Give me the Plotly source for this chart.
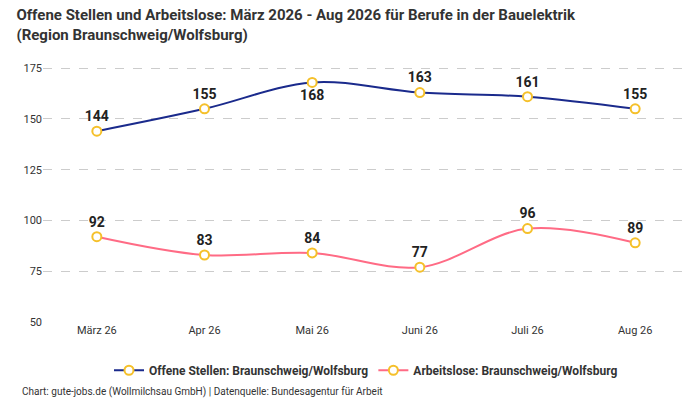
import plotly.graph_objects as go

months = ["März 26", "Apr 26", "Mai 26", "Juni 26", "Juli 26", "Aug 26"]
offene = [144, 155, 168, 163, 161, 155]
arbeitslose = [92, 83, 84, 77, 96, 89]
offene_pos = ["top center", "top center", "bottom center", "top center", "top center", "top center"]
arbeitslose_pos = ["top center"] * 6

fig = go.Figure()
fig.add_trace(go.Scatter(
    x=months, y=offene, name="<b>Offene Stellen: Braunschweig/Wolfsburg</b>",
    mode="lines+markers+text", text=["<b>%d</b>" % v for v in offene], textposition=offene_pos,
    textfont=dict(size=14, color="#222"),
    line=dict(color="#1a2a8c", width=2, shape="spline"),
    marker=dict(size=9, color="white", line=dict(color="#f5c02a", width=2))))
fig.add_trace(go.Scatter(
    x=months, y=arbeitslose, name="<b>Arbeitslose: Braunschweig/Wolfsburg</b>",
    mode="lines+markers+text", text=["<b>%d</b>" % v for v in arbeitslose], textposition=arbeitslose_pos,
    textfont=dict(size=14, color="#222"),
    line=dict(color="#ff6b85", width=2, shape="spline"),
    marker=dict(size=9, color="white", line=dict(color="#f5c02a", width=2))))

fig.update_layout(
    width=700, height=400,
    font=dict(family="Roboto", size=11, color="#333"),
    title=dict(text="<b>Offene Stellen und Arbeitslose: März 2026 - Aug 2026 für Berufe in der Bauelektrik<br>(Region Braunschweig/Wolfsburg)</b>",
               x=0.012, y=0.97, xanchor="left", yanchor="top", font=dict(size=15, color="#333")),
    plot_bgcolor="white", paper_bgcolor="white",
    margin=dict(l=35, r=19, t=46, b=86, autoexpand=False),
    showlegend=True,
    legend=dict(orientation="h", x=0.5, xanchor="center", y=-0.18, yanchor="middle",
                font=dict(size=12, color="#333")),
    annotations=[dict(text="Chart: gute-jobs.de (Wollmilchsau GmbH) | Datenquelle: Bundesagentur für Arbeit",
                      xref="paper", yref="paper", x=-0.035, y=-0.26, xanchor="left", yanchor="middle",
                      showarrow=False, font=dict(size=10, color="#333"))],
)
fig.update_xaxes(range=[-0.5, 5.5], showgrid=False, showline=False, ticks="", tickfont=dict(size=11))
fig.update_yaxes(range=[50, 182], tickvals=[50, 75, 100, 125, 150, 175], showgrid=True,
                 gridcolor="#cccccc", griddash="dash", zeroline=False, tickfont=dict(size=11))

fig.write_html("out.html")
